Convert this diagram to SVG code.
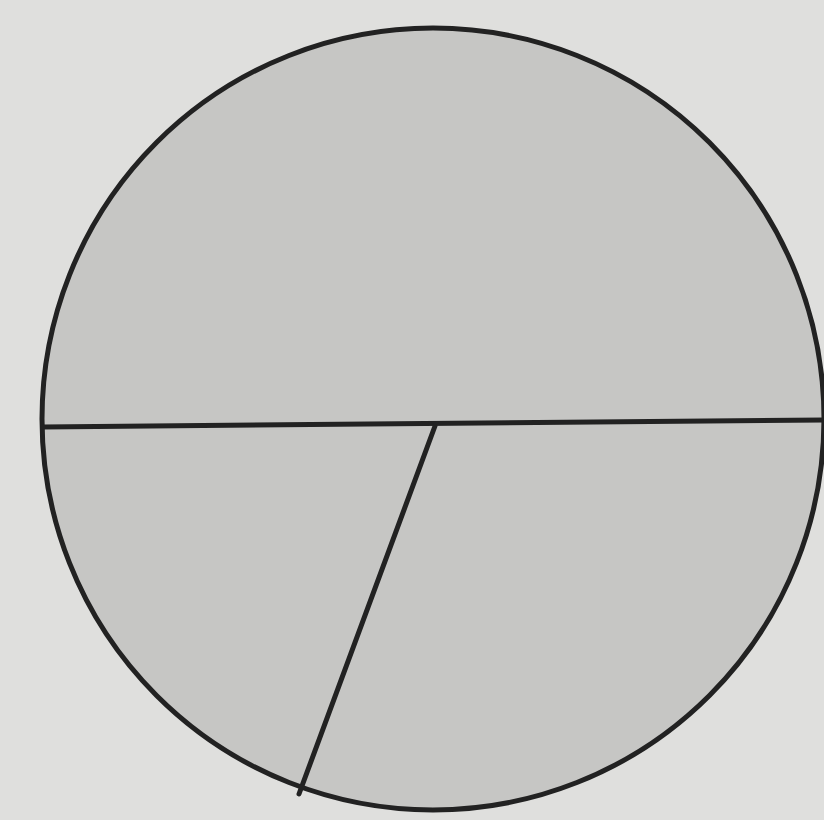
<svg xmlns="http://www.w3.org/2000/svg" width="824" height="820" viewBox="0 0 824 820">
<style>
.edge{stroke:#222;stroke-width:5;fill:none;stroke-linecap:round}
</style>
<rect width="824" height="820" fill="#dfdfdd"/>
<g id="circle">
<circle cx="433" cy="419" r="391" fill="#c6c6c4" stroke="#222" stroke-width="5"/>
</g>
<g id="connectors">
<line class="edge" x1="43" y1="427" x2="824" y2="420"/>
<line class="edge" x1="435" y1="426" x2="299" y2="794"/>
</g>
</svg>
